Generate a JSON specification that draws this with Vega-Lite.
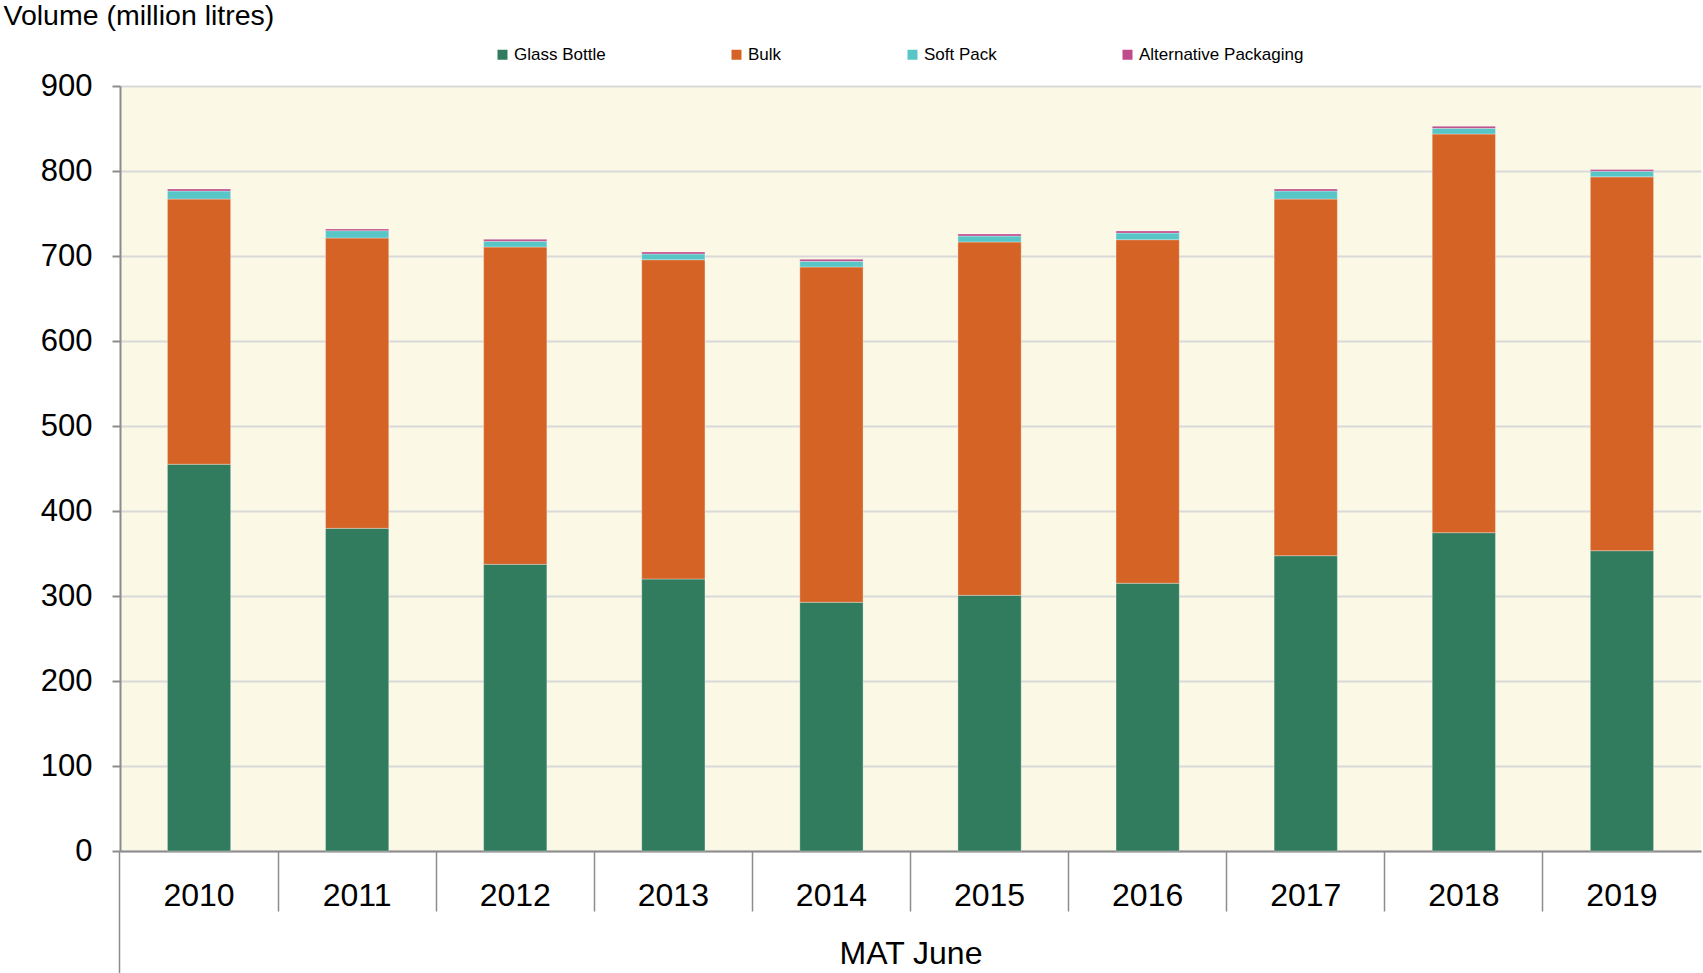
{
  "$schema": "https://vega.github.io/schema/vega-lite/v6.json",
  "width": 1581,
  "height": 765,
  "autosize": {"type": "none"},
  "padding": {"left": 120, "top": 86, "right": 2, "bottom": 122},
  "background": "#ffffff",
  "config": {
    "font": "Liberation Sans",
    "view": {"fill": "#FBF9E6", "stroke": null}
  },
  "data": {
    "values": [
      {"year": "2010", "type": "Glass Bottle", "volume": 455.0},
      {"year": "2010", "type": "Bulk", "volume": 312.0},
      {"year": "2010", "type": "Soft Pack", "volume": 9.5},
      {"year": "2010", "type": "Alternative Packaging", "volume": 2.3},
      {"year": "2011", "type": "Glass Bottle", "volume": 379.6},
      {"year": "2011", "type": "Bulk", "volume": 341.6},
      {"year": "2011", "type": "Soft Pack", "volume": 8.6},
      {"year": "2011", "type": "Alternative Packaging", "volume": 2.0},
      {"year": "2012", "type": "Glass Bottle", "volume": 337.3},
      {"year": "2012", "type": "Bulk", "volume": 373.3},
      {"year": "2012", "type": "Soft Pack", "volume": 6.7},
      {"year": "2012", "type": "Alternative Packaging", "volume": 2.3},
      {"year": "2013", "type": "Glass Bottle", "volume": 320.0},
      {"year": "2013", "type": "Bulk", "volume": 375.6},
      {"year": "2013", "type": "Soft Pack", "volume": 6.8},
      {"year": "2013", "type": "Alternative Packaging", "volume": 2.3},
      {"year": "2014", "type": "Glass Bottle", "volume": 292.6},
      {"year": "2014", "type": "Bulk", "volume": 394.5},
      {"year": "2014", "type": "Soft Pack", "volume": 6.6},
      {"year": "2014", "type": "Alternative Packaging", "volume": 2.4},
      {"year": "2015", "type": "Glass Bottle", "volume": 300.8},
      {"year": "2015", "type": "Bulk", "volume": 415.7},
      {"year": "2015", "type": "Soft Pack", "volume": 7.0},
      {"year": "2015", "type": "Alternative Packaging", "volume": 2.4},
      {"year": "2016", "type": "Glass Bottle", "volume": 315.0},
      {"year": "2016", "type": "Bulk", "volume": 404.2},
      {"year": "2016", "type": "Soft Pack", "volume": 7.8},
      {"year": "2016", "type": "Alternative Packaging", "volume": 2.4},
      {"year": "2017", "type": "Glass Bottle", "volume": 347.4},
      {"year": "2017", "type": "Bulk", "volume": 419.6},
      {"year": "2017", "type": "Soft Pack", "volume": 9.5},
      {"year": "2017", "type": "Alternative Packaging", "volume": 2.3},
      {"year": "2018", "type": "Glass Bottle", "volume": 374.5},
      {"year": "2018", "type": "Bulk", "volume": 469.0},
      {"year": "2018", "type": "Soft Pack", "volume": 6.7},
      {"year": "2018", "type": "Alternative Packaging", "volume": 2.4},
      {"year": "2019", "type": "Glass Bottle", "volume": 353.3},
      {"year": "2019", "type": "Bulk", "volume": 439.8},
      {"year": "2019", "type": "Soft Pack", "volume": 6.7},
      {"year": "2019", "type": "Alternative Packaging", "volume": 1.9}
    ]
  },
  "transform": [
    {"calculate": "indexof(['Glass Bottle','Bulk','Soft Pack','Alternative Packaging'], datum.type)", "as": "stackOrder"}
  ],
  "mark": {"type": "bar", "stroke": "#ffffff", "strokeWidth": 0.8, "strokeOpacity": 0.4},
  "encoding": {
    "x": {
      "field": "year",
      "type": "nominal",
      "scale": {"paddingInner": 0.6, "paddingOuter": 0.3},
      "axis": {
        "title": "MAT June",
        "titleFontSize": 32,
        "titleFontWeight": "normal",
        "titleColor": "#000000",
        "titleBaseline": "middle",
        "titleY": 102,
        "labelAngle": 0,
        "labelFontSize": 32,
        "labelColor": "#000000",
        "labelAlign": "center",
        "labelBaseline": "middle",
        "labelPadding": {"condition": {"test": "datum.value === '2010'", "value": -78}, "value": -16},
        "bandPosition": -0.75,
        "tickSize": {"condition": {"test": "datum.value === '2010'", "value": 122}, "value": 60},
        "tickColor": "#8C8C8C",
        "tickWidth": 1.5,
        "domainColor": "#8C8C8C",
        "domainWidth": 2,
        "grid": false
      }
    },
    "y": {
      "field": "volume",
      "type": "quantitative",
      "aggregate": "sum",
      "stack": "zero",
      "scale": {"domain": [0, 900], "nice": false},
      "axis": {
        "title": "Volume (million litres)",
        "titleAngle": 0,
        "titleAlign": "left",
        "titleBaseline": "middle",
        "titleX": -117,
        "titleY": -71,
        "titleFontSize": 28.5,
        "titleFontWeight": "normal",
        "titleColor": "#000000",
        "values": [0, 100, 200, 300, 400, 500, 600, 700, 800, 900],
        "labelFontSize": 31,
        "labelColor": "#000000",
        "labelPadding": 20,
        "tickSize": 8,
        "tickColor": "#8C8C8C",
        "tickWidth": 2,
        "domainColor": "#8C8C8C",
        "domainWidth": 2,
        "grid": true,
        "gridColor": "#D9D9D9",
        "gridWidth": 2
      }
    },
    "color": {
      "field": "type",
      "type": "nominal",
      "scale": {
        "domain": ["Glass Bottle", "Bulk", "Soft Pack", "Alternative Packaging"],
        "range": ["#317B5F", "#D56326", "#58C5C7", "#BE4A8B"]
      },
      "legend": {
        "title": null,
        "orient": "none",
        "legendX": 374,
        "legendY": -40,
        "direction": "horizontal",
        "columns": 4,
        "columnPadding": 122,
        "symbolType": "square",
        "symbolSize": 100,
        "symbolStrokeWidth": 0,
        "labelFontSize": 17,
        "labelLimit": 400,
        "labelColor": "#000000",
        "labelOffset": 3,
        "padding": 0
      }
    },
    "order": {"field": "stackOrder", "type": "quantitative", "aggregate": "min"}
  }
}
